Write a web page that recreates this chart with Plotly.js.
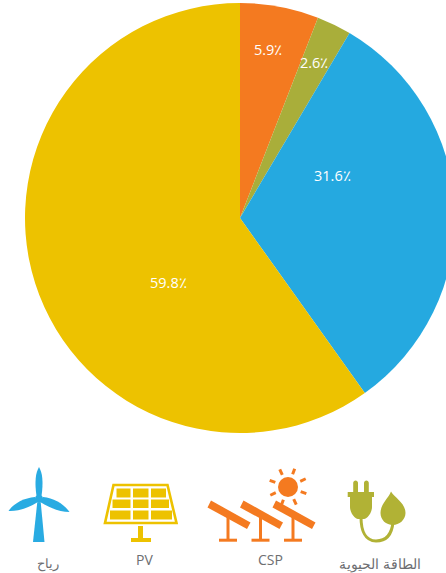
<!DOCTYPE html>
<html>
<head>
<meta charset="utf-8">
<script src="https://cdn.plot.ly/plotly-3.0.1.min.js"></script>
<style>
  html, body { margin: 0; padding: 0; width: 446px; height: 573px; overflow: hidden; background: #fff; }
  #chart { position: absolute; left: 0; top: 0; }
</style>
</head>
<body>
<div id="chart"></div>
<script>
// Energy mix, clockwise from twelve o'clock
const sources = ['CSP', 'الطاقة الحيوية', 'رياح', 'PV'];
const shares = [5.9, 2.6, 31.6, 59.8];
const sliceColors = ['#F47A20', '#A9AE3A', '#25A9E0', '#EDC200'];

// Label anchors in page pixels, same order as the shares
const shareLabelX = [268, 314, 332, 168];
const shareLabelY = [49, 62, 175, 282];

// Captions under the icons
const captions = ['رياح', 'PV', 'CSP', 'الطاقة الحيوية'];
const captionX = [48, 144, 270, 380];
const captionY = [563, 559, 559, 563];
const captionSizes = [13, 14, 14, 14];

const W = 470, H = 573;           // the pie runs past the right edge of the window
const BLUE = '#29ABE2', YELLOW = '#EDC200', ORANGE = '#F47A20', OLIVE = '#B1B235';

function fillPath(path, color) {
  return { type: 'path', xref: 'x', yref: 'y', path: path, fillcolor: color, line: { width: 0 } };
}
function strokePath(path, color, w) {
  return { type: 'path', xref: 'x', yref: 'y', path: path, fillcolor: 'rgba(0,0,0,0)', line: { color: color, width: w } };
}
function box(x0, y0, x1, y1, color) {
  return fillPath(`M${x0},${y0}L${x1},${y0}L${x1},${y1}L${x0},${y1}Z`, color);
}
function disc(cx, cy, r, color) {
  return { type: 'circle', xref: 'x', yref: 'y', x0: cx - r, x1: cx + r, y0: cy - r, y1: cy + r, fillcolor: color, line: { width: 0 } };
}

const shapes = [];

// Wind turbine
shapes.push(fillPath('M39,467C42.5,473 43.5,482 41.5,496L36.5,496C34.5,482 35.5,473 39,467Z', BLUE));
shapes.push(fillPath('M8.5,511C14,503 24,498 35,497L37,502.5C28,508 18,511.5 8.5,511Z', BLUE));
shapes.push(fillPath('M69.5,512C64,504 54,498 43,497L41,502.5C50,508 60,512 69.5,512Z', BLUE));
shapes.push(disc(39, 499, 4, BLUE));
shapes.push(fillPath('M37.2,503L40.8,503L44.5,542L33,542Z', BLUE));

// Solar panel
shapes.push(strokePath('M113.5,485L167.5,485L176.5,523L105,523Z', YELLOW, 2.6));
[[116.5, 130.5, 488.5, 497.5], [133, 148.5, 488.5, 497.5], [151, 166, 488.5, 497.5]].forEach(c => shapes.push(box(c[0], c[2], c[1], c[3], YELLOW)));
[[112.5, 130.5, 499.5, 508], [133, 148.5, 499.5, 508], [151, 169, 499.5, 508]].forEach(c => shapes.push(box(c[0], c[2], c[1], c[3], YELLOW)));
[[110, 130.5, 510.5, 519.5], [133, 148.5, 510.5, 519.5], [151, 172, 510.5, 519.5]].forEach(c => shapes.push(box(c[0], c[2], c[1], c[3], YELLOW)));
shapes.push(box(138, 526, 143, 539, YELLOW));
shapes.push(box(131, 538, 151, 542, YELLOW));

// Sun and tilted collectors
shapes.push(disc(288, 487, 10, ORANGE));
for (let k = 0; k < 8; k++) {
  const a = (20 + 45 * k) * Math.PI / 180;
  const sx = Math.sin(a), cy = -Math.cos(a);
  shapes.push(strokePath(`M${288 + 13.5 * sx},${487 + 13.5 * cy}L${288 + 19.5 * sx},${487 + 19.5 * cy}`, ORANGE, 3));
}
[0, 32.5, 65].forEach(dx => {
  shapes.push(fillPath(`M${211 + dx},500.5L${250.5 + dx},522.5L${247 + dx},529L${207.5 + dx},507.5Z`, ORANGE));
  shapes.push(box(226.5 + dx, 516, 229.5 + dx, 540, ORANGE));
  shapes.push(box(219 + dx, 538.7, 237 + dx, 541.7, ORANGE));
});

// Plug with a leaf-shaped drop
shapes.push(fillPath('M353.2,483C353.2,479.5 358,479.5 358,483L358,493L353.2,493Z', OLIVE));
shapes.push(fillPath('M364,483C364,479.5 368.8,479.5 368.8,483L368.8,493L364,493Z', OLIVE));
shapes.push(box(347.7, 492, 374, 497, OLIVE));
shapes.push(fillPath('M350,497L372,497L372,507C372,513 367,519 364,519L358,519C355,519 350,513 350,507Z', OLIVE));
shapes.push(strokePath('M361,517C361,530 365,541 376,541C387,541 392,533 393,522', OLIVE, 3));
shapes.push(fillPath('M391,491.5C395,498 405.5,503 405.5,513C405.5,520 399,525 393,525C386,525 380.5,520 380.5,513C380.5,504 388,499 391,491.5Z', OLIVE));

const shareAnnotations = shares.map((v, i) => ({
  xref: 'x', yref: 'y', x: shareLabelX[i], y: shareLabelY[i],
  text: v.toFixed(1) + '٪', showarrow: false,
  font: { family: '"Open Sans", "Noto Sans", sans-serif', size: 14.5, color: '#FFFFFF' }
}));
const captionAnnotations = captions.map((t, i) => ({
  xref: 'x', yref: 'y', x: captionX[i], y: captionY[i],
  text: t, showarrow: false,
  font: { family: '"Open Sans", "Noto Sans", sans-serif', size: captionSizes[i], color: '#6D6E71' }
}));

const pie = {
  type: 'pie',
  labels: sources,
  values: shares,
  sort: false,
  direction: 'clockwise',
  rotation: 0,
  textinfo: 'none',
  hoverinfo: 'label+percent',
  marker: { colors: sliceColors, line: { width: 0 } },
  domain: { x: [25 / W, 455 / W], y: [(H - 433) / H, (H - 3) / H] },
  showlegend: false
};
// Empty trace so shapes and annotations can use pixel-scaled axes
const frame = { type: 'scatter', x: [], y: [], hoverinfo: 'skip', showlegend: false };

Plotly.newPlot('chart', [pie, frame], {
  width: W, height: H,
  margin: { l: 0, r: 0, t: 0, b: 0 },
  paper_bgcolor: '#FFFFFF', plot_bgcolor: 'rgba(0,0,0,0)',
  xaxis: { range: [0, W], visible: false, fixedrange: true },
  yaxis: { range: [H, 0], visible: false, fixedrange: true },
  shapes: shapes,
  annotations: shareAnnotations.concat(captionAnnotations)
}, { displayModeBar: false, staticPlot: true });
</script>
</body>
</html>
